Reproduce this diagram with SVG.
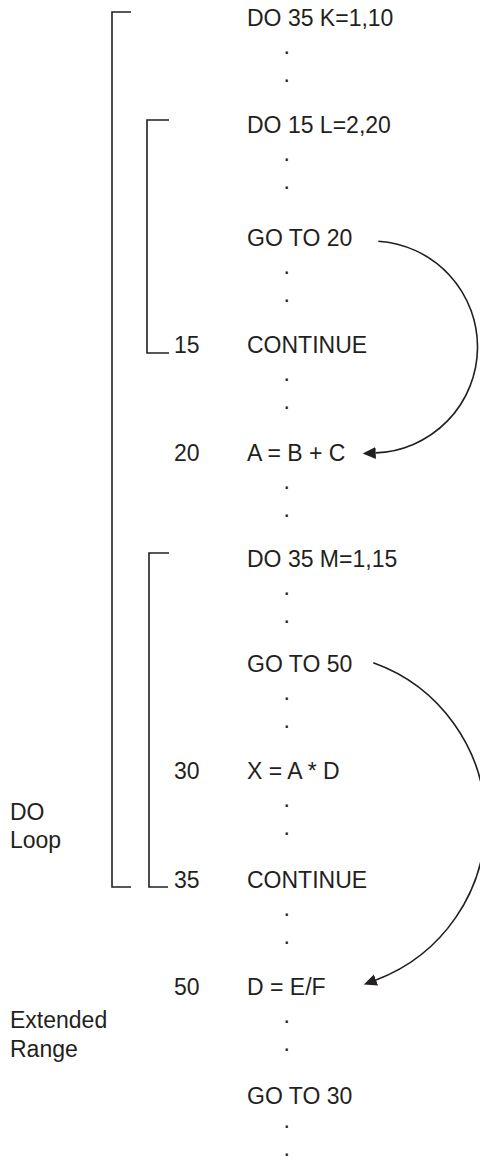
<svg xmlns="http://www.w3.org/2000/svg" width="480" height="1163" viewBox="0 0 480 1163">
<style>
text{font-family:"Liberation Sans",Arial,sans-serif;font-size:23px;fill:#231f20}
.br{fill:none;stroke:#231f20;stroke-width:1.6}
.arc{fill:none;stroke:#231f20;stroke-width:1.6}
</style>
<defs>
<marker id="ah" markerUnits="userSpaceOnUse" markerWidth="14" markerHeight="13" refX="0" refY="6" orient="auto">
<path d="M0,0 L13,6 L0,12 Z" fill="#231f20"/>
</marker>
</defs>
<rect width="480" height="1163" fill="#fff"/>
<g id="brackets">
<path class="br" d="M131,12 H112 V887 H131"/>
<path class="br" d="M169,120 H147 V353 H169"/>
<path class="br" d="M169,553 H149 V887 H168"/>
</g>
<g id="labels">
<g id="label-do-loop"><text x="10" y="820">DO</text><text x="10" y="848">Loop</text></g>
<g id="label-extended"><text x="10" y="1028">Extended</text><text x="10" y="1057">Range</text></g>
</g>
<g id="s0"><text x="247" y="26">DO 35 K=1,10</text><text x="283.5" y="54">.</text><text x="283.5" y="82">.</text></g>
<g id="s1"><text x="247" y="133">DO 15 L=2,20</text><text x="283.5" y="161">.</text><text x="283.5" y="189">.</text></g>
<g id="s2"><text x="247" y="246">GO TO 20</text><text x="283.5" y="274">.</text><text x="283.5" y="302">.</text></g>
<g id="s3"><text x="174" y="353">15</text><text x="247" y="353">CONTINUE</text><text x="283.5" y="381">.</text><text x="283.5" y="409">.</text></g>
<g id="s4"><text x="174" y="461">20</text><text x="247" y="461">A = B + C</text><text x="283.5" y="489">.</text><text x="283.5" y="517">.</text></g>
<g id="s5"><text x="247" y="567">DO 35 M=1,15</text><text x="283.5" y="595">.</text><text x="283.5" y="623">.</text></g>
<g id="s6"><text x="247" y="672">GO TO 50</text><text x="283.5" y="700">.</text><text x="283.5" y="728">.</text></g>
<g id="s7"><text x="174" y="779">30</text><text x="247" y="779">X = A * D</text><text x="283.5" y="807">.</text><text x="283.5" y="835">.</text></g>
<g id="s8"><text x="174" y="888">35</text><text x="247" y="888">CONTINUE</text><text x="283.5" y="916">.</text><text x="283.5" y="944">.</text></g>
<g id="s9"><text x="174" y="995">50</text><text x="247" y="995">D = E/F</text><text x="283.5" y="1023">.</text><text x="283.5" y="1051">.</text></g>
<g id="s10"><text x="247" y="1104">GO TO 30</text><text x="283.5" y="1128">.</text><text x="283.5" y="1156">.</text></g>
<g id="connectors">
<path class="arc" d="M378.3,241.2 A106,106 0 0 1 375.7,452.9" marker-end="url(#ah)"/>
<path class="arc" d="M373.3,662.7 A169,169 0 0 1 376,980" marker-end="url(#ah)"/>
</g>
</svg>
